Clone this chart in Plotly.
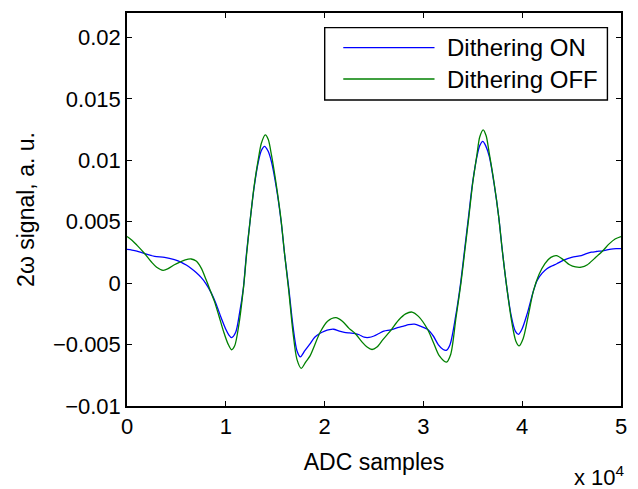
import plotly.graph_objects as go

# ADC sample positions (thousands) and 2ω signal values
x_on_k = [0, 0.5, 1.0, 1.8, 2.8, 3.8, 4.8, 5.5, 6.0, 6.5, 7.0, 7.5, 8.0, 8.5, 9.0, 9.5, 10.0,
          10.3, 10.58, 11.0, 11.4, 11.78, 12.08, 12.45, 12.85, 13.29, 13.6, 13.92, 14.25,
          14.63, 15.13, 15.6, 15.96, 16.37, 16.8, 17.2, 17.55, 18.0, 18.5, 19.0, 19.5, 20.0,
          20.5, 20.9, 21.5, 22.0, 22.5, 23.1, 23.5, 24.0, 24.5, 25.0, 25.5, 26.0, 26.7,
          27.5, 28.0, 28.5, 29.1, 29.7, 30.4, 31.0, 31.5, 32.0, 32.36, 32.7, 33.27, 33.77,
          34.17, 34.57, 34.97, 35.41, 35.7, 36.01, 36.3, 36.68, 37.15, 37.62, 37.98, 38.38,
          38.89, 39.3, 39.63, 40.0, 40.5, 41.13, 41.5, 42.0, 42.5, 43.0, 43.5, 44.15,
          45.0, 45.98, 46.5, 47.0, 47.5, 48.16, 48.5, 49.0, 49.5, 50.0]
y_on = [0.00275, 0.00270, 0.00262, 0.00240, 0.00218, 0.00210, 0.00191, 0.00170, 0.00148,
        0.00120, 0.00087, 0.00047, -0.00005, -0.00075, -0.00165, -0.00275, -0.00375,
        -0.00420, -0.00443, -0.00400, -0.00240, -0.00038, 0.00232, 0.00502, 0.00771,
        0.00987, 0.01080, 0.01114, 0.01080, 0.00987, 0.00771, 0.00502, 0.00232, -0.00038,
        -0.00350, -0.00550, -0.00600, -0.00550, -0.00496, -0.00440, -0.00410, -0.00390,
        -0.00378, -0.00375, -0.00390, -0.00400, -0.00405, -0.00410, -0.00420, -0.00440,
        -0.00442, -0.00430, -0.00410, -0.00390, -0.00380, -0.00360, -0.00350, -0.00338,
        -0.00334, -0.00350, -0.00375, -0.00430, -0.00500, -0.00540, -0.00545, -0.00500,
        -0.00267, 0.00003, 0.00272, 0.00542, 0.00812, 0.01028, 0.01120, 0.01155, 0.01120,
        0.01028, 0.00812, 0.00542, 0.00272, 0.00003, -0.00267, -0.00390, -0.00416,
        -0.00370, -0.00250, -0.00065, 0.00020, 0.00080, 0.00118, 0.00140, 0.00158,
        0.00185, 0.00210, 0.00225, 0.00240, 0.00252, 0.00258, 0.00264, 0.00270, 0.00278,
        0.00281, 0.00281]

x_off_k = [0, 0.5, 1.0, 1.8, 2.5, 3.0, 3.65, 4.2, 4.8, 5.3, 5.9, 6.5, 7.0, 7.5, 8.0, 8.5,
           8.84, 9.3, 9.8, 10.2, 10.58, 10.9, 11.3, 11.8, 12.1, 12.45, 12.85, 13.29, 13.6,
           14.0, 14.3, 14.63, 15.13, 15.6, 15.96, 16.37, 16.8, 17.2, 17.64, 18.1, 18.54,
           19.55, 20.3, 21.15, 21.8, 22.5, 23.1, 23.8, 24.3, 24.8, 25.3, 25.9, 26.74, 27.5,
           28.2, 28.85, 29.5, 30.42, 31.0, 31.6, 32.33, 32.76, 33.3, 33.8, 34.2, 34.6, 35.0,
           35.41, 35.7, 36.05, 36.35, 36.68, 37.15, 37.62, 37.98, 38.4, 38.95, 39.35, 39.69,
           40.1, 40.6, 41.13, 41.7, 42.3, 42.9, 43.47, 44.15, 44.8, 45.4, 45.98, 46.6, 47.3,
           48.16, 48.8, 49.4, 50.0]
y_off = [0.00380, 0.00350, 0.00310, 0.00240, 0.00170, 0.00130, 0.00105, 0.00120, 0.00150,
         0.00170, 0.00190, 0.00197, 0.00180, 0.00125, 0.00030, -0.00075,
         -0.00146, -0.00265, -0.00400, -0.00490, -0.00542, -0.00510, -0.00350, -0.00030,
         0.00230, 0.00500, 0.00780, 0.01010, 0.01140, 0.01208, 0.01170, 0.01040, 0.00790,
         0.00510, 0.00230, -0.00060, -0.00400, -0.00620, -0.00693, -0.00640, -0.00590,
         -0.00400, -0.00310, -0.00281, -0.00310, -0.00370, -0.00410, -0.00480, -0.00520,
         -0.00540, -0.00520, -0.00460, -0.00380, -0.00300, -0.00250, -0.00235, -0.00270,
         -0.00375, -0.00480, -0.00590, -0.00642, -0.00580, -0.00280, 0.00000, 0.00270,
         0.00540, 0.00820, 0.01040, 0.01190, 0.01249, 0.01200, 0.01050, 0.00820, 0.00540,
         0.00270, -0.00010, -0.00320, -0.00470, -0.00510, -0.00450, -0.00270, -0.00065,
         0.00070, 0.00160, 0.00210, 0.00224, 0.00192, 0.00150, 0.00132, 0.00130, 0.00150,
         0.00200, 0.00264, 0.00320, 0.00360, 0.00380]

series_names = ["Dithering ON", "Dithering OFF"]
series_colors = ["#0000ff", "#008000"]
x_ticks = [0, 10000, 20000, 30000, 40000, 50000]
x_tick_text = ["0", "1", "2", "3", "4", "5"]
y_ticks = [-0.01, -0.005, 0, 0.005, 0.01, 0.015, 0.02]
y_tick_text = ["\u22120.01", "\u22120.005", "0", "0.005", "0.01", "0.015", "0.02"]

x_on = [v * 1000 for v in x_on_k]
x_off = [v * 1000 for v in x_off_k]

FONT = "Liberation Sans, Arial, Helvetica, sans-serif"

fig = go.Figure()
fig.add_trace(go.Scatter(x=x_on, y=y_on, mode="lines", name=series_names[0], showlegend=False,
                         line=dict(color=series_colors[0], width=1.3, shape="spline", smoothing=0.8)))
fig.add_trace(go.Scatter(x=x_off, y=y_off, mode="lines", name=series_names[1], showlegend=False,
                         line=dict(color=series_colors[1], width=1.3, shape="spline", smoothing=0.8)))

axis_common = dict(showline=True, linecolor="black", linewidth=1.5, mirror="ticks",
                   ticks="inside", ticklen=5, tickwidth=1, tickcolor="black",
                   showgrid=False, zeroline=False,
                   tickfont=dict(family=FONT, size=22, color="black"))

fig.update_xaxes(range=[0, 50000], tickvals=x_ticks, ticktext=x_tick_text,
                 title=dict(text="ADC samples", font=dict(family=FONT, size=23, color="black"),
                            standoff=16),
                 **axis_common)
fig.update_yaxes(range=[-0.01, 0.022], tickvals=y_ticks, ticktext=y_tick_text,
                 title=dict(text="2\u03c9 signal, a. u.", font=dict(family=FONT, size=23, color="black"),
                            standoff=12),
                 **axis_common)

fig.add_annotation(text="x 10<sup>4</sup>", xref="paper", yref="paper", x=1.012, y=-0.178,
                   xanchor="right", yanchor="middle", showarrow=False,
                   font=dict(family=FONT, size=22, color="black"))

# Legend box (layout decoration, in paper coordinates)
leg_x0, leg_x1, leg_y0, leg_y1 = 0.4002, 0.9725, 0.7788, 0.9627
leg_rows_y = [0.9121, 0.8320]
leg_line_x = (0.4378, 0.6225)
leg_text_x = 0.6432
fig.add_shape(type="rect", xref="paper", yref="paper", x0=leg_x0, x1=leg_x1, y0=leg_y0, y1=leg_y1,
              line=dict(color="black", width=1.4), fillcolor="white", layer="above")
for name, color, ry in zip(series_names, series_colors, leg_rows_y):
    fig.add_shape(type="line", xref="paper", yref="paper", x0=leg_line_x[0], x1=leg_line_x[1],
                  y0=ry, y1=ry, line=dict(color=color, width=1.3), layer="above")
    fig.add_annotation(text=name, xref="paper", yref="paper", x=leg_text_x, y=ry,
                       xanchor="left", yanchor="middle", showarrow=False,
                       font=dict(family=FONT, size=24, color="black"))

fig.update_layout(
    width=638, height=489,
    margin=dict(l=127, r=13, t=11, b=83, pad=0),
    paper_bgcolor="white", plot_bgcolor="white",
    font=dict(family=FONT, color="black"),
    showlegend=False,
)

fig.write_html("out.html")
